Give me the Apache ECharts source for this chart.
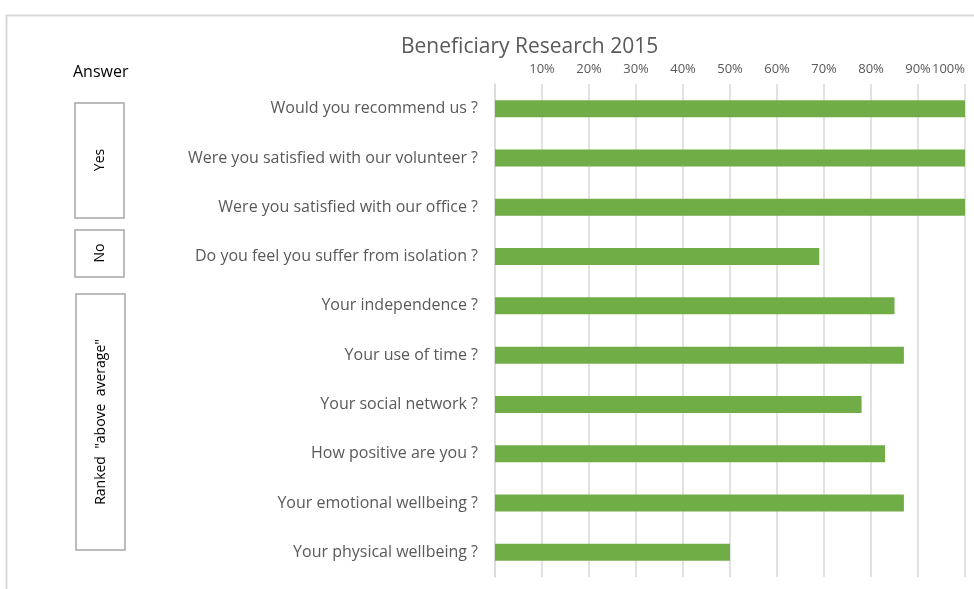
<!DOCTYPE html>
<html>
<head>
<meta charset="utf-8">
<script src="https://cdn.jsdelivr.net/npm/echarts@6/dist/echarts.min.js"></script>
<style>
  html, body { margin: 0; padding: 0; background: #fff; }
  #main { width: 974px; height: 589px; }
</style>
</head>
<body>
<div id="main"></div>
<script>
var questions = [
  'Would you recommend us ?',
  'Were you satisfied with our volunteer ?',
  'Were you satisfied with our office ?',
  'Do you feel you suffer from isolation ?',
  'Your independence ?',
  'Your use of time ?',
  'Your social network ?',
  'How positive are you ?',
  'Your emotional wellbeing ?',
  'Your physical wellbeing ?'
];
var percentages = [100, 100, 100, 69, 85, 87, 78, 83, 87, 50];
var answerGroups = ['Yes', 'No', 'Ranked  "above  average"'];

var chart = echarts.init(document.getElementById('main'));
var font = '"Open Sans", sans-serif';

var option = {
  backgroundColor: '#fff',
  animation: false,
  title: {
    text: 'Beneficiary Research 2015',
    left: 396,
    top: 32,
    textStyle: { fontFamily: font, fontSize: 21, fontWeight: 'normal', color: '#595959' }
  },
  grid: { left: 495, right: 9, top: 84, bottom: 12, outerBoundsMode: 'none', containLabel: false },
  xAxis: {
    type: 'value',
    position: 'top',
    min: 0,
    max: 100,
    interval: 10,
    axisLine: { show: false },
    axisTick: { show: false },
    axisLabel: {
      margin: 8,
      fontFamily: font,
      fontSize: 13,
      color: '#595959',
      showMaxLabel: true,
      hideOverlap: false,
      alignMaxLabel: 'right',
      formatter: function (v) { return v === 0 ? '' : v + '%'; }
    },
    splitLine: { lineStyle: { color: '#d9d9d9', width: 1.5 } }
  },
  yAxis: {
    type: 'category',
    inverse: true,
    data: questions,
    axisLine: { show: true, lineStyle: { color: '#d9d9d9', width: 1.5 } },
    axisTick: { show: false },
    axisLabel: { margin: 17, fontFamily: font, fontSize: 16, color: '#595959' }
  },
  series: [{
    type: 'bar',
    data: percentages,
    barWidth: 17,
    itemStyle: { color: '#70ad47' }
  }],
  graphic: [
    { type: 'rect', left: 4, top: 13, shape: { width: 1000, height: 600 },
      style: { fill: 'none', stroke: '#d9d9d9', lineWidth: 2 }, silent: true },
    { type: 'text', left: 73, top: 64,
      style: { text: 'Answer', fontFamily: font, fontSize: 16, fill: '#000' } },
    { type: 'rect', shape: { x: 75, y: 103, width: 49, height: 115 },
      style: { fill: '#fff', stroke: '#a6a6a6', lineWidth: 1.5 } },
    { type: 'text', x: 100, y: 160, rotation: Math.PI / 2,
      style: { text: answerGroups[0], fontFamily: font, fontSize: 14, fill: '#000', align: 'center', verticalAlign: 'middle' } },
    { type: 'rect', shape: { x: 75, y: 230, width: 49, height: 47 },
      style: { fill: '#fff', stroke: '#a6a6a6', lineWidth: 1.5 } },
    { type: 'text', x: 100, y: 253, rotation: Math.PI / 2,
      style: { text: answerGroups[1], fontFamily: font, fontSize: 14, fill: '#000', align: 'center', verticalAlign: 'middle' } },
    { type: 'rect', shape: { x: 76, y: 294, width: 49, height: 256 },
      style: { fill: '#fff', stroke: '#a6a6a6', lineWidth: 1.5 } },
    { type: 'text', x: 101, y: 422, rotation: Math.PI / 2,
      style: { text: answerGroups[2], fontFamily: font, fontSize: 14, fill: '#000', align: 'center', verticalAlign: 'middle' } }
  ]
};

chart.setOption(option);
</script>
</body>
</html>
